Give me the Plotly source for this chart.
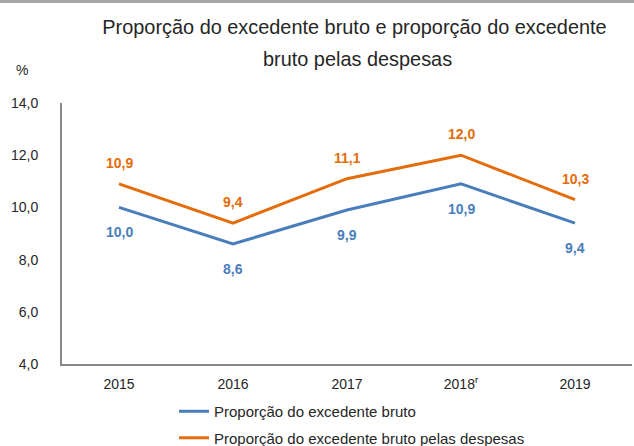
import plotly.graph_objects as go

years = ["2015", "2016", "2017", "2018<sup>r</sup>", "2019"]
bruto = [10.0, 8.6, 9.9, 10.9, 9.4]
despesas = [10.9, 9.4, 11.1, 12.0, 10.3]
names = ["Proporção do excedente bruto", "Proporção do excedente bruto pelas despesas"]
yticks = [4, 6, 8, 10, 12, 14]
title1 = "Proporção do excedente bruto e proporção do excedente"
title2 = "bruto pelas despesas"

BLUE = "#4a7ebb"
ORANGE = "#e46c0a"
TXT = "#262626"
FONT = "Liberation Sans Narrow, Arial Narrow, Liberation Sans, sans-serif"

fig = go.Figure()
fig.add_trace(go.Scatter(x=years, y=bruto, mode="lines", name=names[0],
                         line=dict(color=BLUE, width=3), legendgroup="a"))
fig.add_trace(go.Scatter(x=years, y=despesas, mode="lines", name=names[1],
                         line=dict(color=ORANGE, width=3), legendgroup="b"))

def fmt(v):
    return "<b>" + f"{v:.1f}".replace(".", ",") + "</b>"

for i, v in enumerate(bruto):
    fig.add_annotation(x=i, y=v, text=fmt(v), showarrow=False, yshift=-25,
                       font=dict(color=BLUE, size=14, family=FONT))
for i, v in enumerate(despesas):
    fig.add_annotation(x=i, y=v, text=fmt(v), showarrow=False, yshift=21,
                       font=dict(color=ORANGE, size=14, family=FONT))

fig.add_annotation(xref="paper", yref="paper", x=-0.0702, y=1.1264, text="%",
                   showarrow=False, font=dict(size=14, color=TXT, family=FONT),
                   xanchor="center", yanchor="middle")
fig.add_annotation(xref="paper", yref="paper", x=0.5185, y=1.1686, text=title2,
                   showarrow=False, font=dict(size=19.9, color=TXT, family=FONT),
                   xanchor="center", yanchor="middle")

# top gray band
fig.add_shape(type="rect", xref="paper", yref="paper", x0=-0.2, x1=1.2,
              y0=1.383, y1=1.40, fillcolor="#aaa6a6", line_width=0, layer="above")

fig.update_layout(
    width=634, height=446,
    margin=dict(l=62, r=2, t=103, b=82, autoexpand=False),
    paper_bgcolor="white", plot_bgcolor="white",
    separators=",.",
    font=dict(family=FONT, color=TXT, size=14),
    title=dict(text=title1, xref="container", x=0.5591, xanchor="center",
               yref="container", y=0.9395, yanchor="middle",
               font=dict(size=19.9, family=FONT, color=TXT)),
    showlegend=True,
    legend=dict(orientation="v", xref="container", yref="container",
                x=0.2744, xanchor="left", y=0.1143, yanchor="top",
                traceorder="grouped", tracegroupgap=4,
                font=dict(size=15, family=FONT, color=TXT),
                bgcolor="rgba(0,0,0,0)"),
    xaxis=dict(type="category", range=[-0.5, 4.5], showline=True, linecolor="#888888",
               linewidth=2, ticks="", showgrid=False, automargin=False,
               tickfont=dict(size=14, family=FONT, color=TXT),
               ticklabelstandoff=6),
    yaxis=dict(range=[4, 14], tickvals=yticks, tickformat=".1f", showline=True,
               linecolor="#888888", linewidth=2, ticks="", showgrid=False,
               zeroline=False, automargin=False,
               tickfont=dict(size=14, family=FONT, color=TXT),
               ticklabelstandoff=19),
)

fig.write_html("out.html", config={"displayModeBar": False},
               post_script="document.body.style.margin='0';document.body.style.overflow='hidden';")
